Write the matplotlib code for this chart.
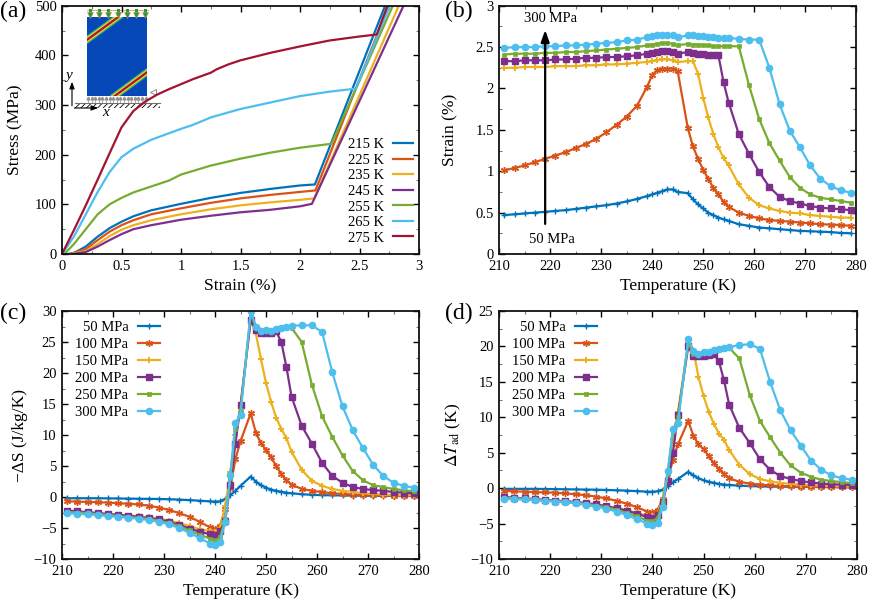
import numpy as np
import matplotlib
matplotlib.use("Agg")
import matplotlib.pyplot as plt
from matplotlib.patches import Rectangle
from matplotlib.ticker import MultipleLocator, FormatStrFormatter

plt.rcParams["font.family"] = ["Liberation Serif", "DejaVu Serif"]
plt.rcParams["mathtext.fontset"] = "stix"
plt.rcParams["hatch.color"] = "#808080"
plt.rcParams["hatch.linewidth"] = 0.6

# ---------------- data ----------------
# (a) stress-strain curves: strain (%) and stress (MPa)
temps_a = ["215 K", "225 K", "235 K", "245 K", "255 K", "265 K", "275 K"]
strain_215 = [0.05, 0.1, 0.2, 0.3, 0.4, 0.5, 0.6, 0.75, 1.0, 1.25, 1.5, 1.75, 2.0, 2.125, 2.715]
stress_215 = [0, 2, 15, 35, 52, 65, 76, 88, 101, 113, 123, 131, 138, 140, 500]
strain_225 = [0.07, 0.2, 0.3, 0.4, 0.5, 0.6, 0.75, 1.0, 1.25, 1.5, 1.75, 2.0, 2.13, 2.745]
stress_225 = [0, 10, 28, 45, 58, 68, 80, 92, 103, 112, 119, 125, 128, 500]
strain_235 = [0.08, 0.2, 0.3, 0.4, 0.5, 0.6, 0.75, 1.0, 1.25, 1.5, 1.75, 2.0, 2.12, 2.83]
stress_235 = [0, 6, 20, 36, 49, 58, 68, 80, 90, 98, 104, 109, 112, 500]
strain_245 = [0.1, 0.2, 0.3, 0.4, 0.5, 0.6, 0.75, 1.0, 1.25, 1.5, 1.75, 2.0, 2.10, 2.87]
stress_245 = [0, 4, 15, 28, 40, 50, 58, 69, 77, 84, 89, 96, 101, 500]
strain_255 = [0.02, 0.1, 0.2, 0.3, 0.4, 0.5, 0.6, 0.75, 0.9, 1.0, 1.25, 1.5, 1.75, 2.0, 2.265, 2.78]
stress_255 = [0, 20, 50, 80, 100, 113, 124, 136, 148, 160, 178, 192, 204, 214, 222, 500]
strain_265 = [0, 0.1, 0.2, 0.3, 0.4, 0.5, 0.6, 0.75, 1.0, 1.1, 1.25, 1.5, 1.75, 2.0, 2.25, 2.47, 2.755]
stress_265 = [0, 35, 80, 125, 165, 195, 212, 230, 252, 260, 275, 292, 305, 318, 327, 333, 500]
strain_275 = [0, 0.1, 0.2, 0.3, 0.4, 0.5, 0.6, 0.7, 0.8, 0.9, 1.0, 1.1, 1.25, 1.3, 1.4, 1.5, 1.75, 2.0, 2.25, 2.5, 2.645, 2.735]
stress_275 = [0, 48, 98, 150, 203, 255, 288, 307, 321, 332, 342, 352, 365, 372, 382, 390, 405, 418, 430, 438, 442, 500]

# (b)-(d) temperature grid (K)
temperature = [211, 213, 215, 217, 219, 221, 223, 225, 227, 229, 231, 233, 235, 237,
               239, 240, 241, 242, 243, 244, 245, 247, 248, 249, 250, 251, 252, 253,
               254, 255, 257, 259, 261, 263, 265, 267, 269, 271, 273, 275, 277, 279]
pressures = ["50 MPa", "100 MPa", "150 MPa", "200 MPa", "250 MPa", "300 MPa"]

# (b) strain (%)
strain_50 = [0.47, 0.48, 0.49, 0.50, 0.51, 0.52, 0.53, 0.545, 0.56, 0.575, 0.59, 0.61, 0.635, 0.665,
             0.70, 0.72, 0.74, 0.76, 0.78, 0.78, 0.75, 0.735, 0.66, 0.60, 0.55, 0.50, 0.47, 0.44,
             0.42, 0.40, 0.36, 0.34, 0.32, 0.31, 0.30, 0.29, 0.28, 0.275, 0.27, 0.265, 0.255, 0.25]
strain_100 = [1.01, 1.04, 1.07, 1.11, 1.15, 1.19, 1.23, 1.28, 1.33, 1.39, 1.47, 1.56, 1.66, 1.79,
              2.02, 2.16, 2.22, 2.24, 2.24, 2.24, 2.21, 1.52, 1.30, 1.15, 1.02, 0.91, 0.80, 0.72,
              0.63, 0.57, 0.50, 0.46, 0.43, 0.41, 0.40, 0.39, 0.38, 0.37, 0.36, 0.355, 0.35, 0.34]
strain_150 = [2.25, 2.25, 2.26, 2.26, 2.26, 2.27, 2.27, 2.27, 2.28, 2.28, 2.29, 2.29, 2.30, 2.31,
              2.32, 2.33, 2.34, 2.35, 2.35, 2.34, 2.32, 2.33, 2.33, 2.18, 1.89, 1.65, 1.45, 1.29,
              1.16, 1.07, 0.84, 0.68, 0.59, 0.55, 0.52, 0.50, 0.49, 0.47, 0.46, 0.45, 0.44, 0.44]
strain_200 = [2.33, 2.33, 2.34, 2.34, 2.34, 2.35, 2.35, 2.36, 2.37, 2.37, 2.38, 2.38, 2.39, 2.40,
              2.42, 2.43, 2.44, 2.45, 2.45, 2.44, 2.42, 2.44, 2.43, 2.42, 2.42, 2.41, 2.41, 2.40,
              2.08, 1.83, 1.45, 1.21, 0.99, 0.81, 0.69, 0.64, 0.61, 0.58, 0.56, 0.55, 0.54, 0.53]
strain_250 = [2.41, 2.42, 2.42, 2.42, 2.43, 2.43, 2.44, 2.44, 2.45, 2.46, 2.47, 2.48, 2.49, 2.50,
              2.52, 2.53, 2.54, 2.55, 2.55, 2.54, 2.52, 2.54, 2.53, 2.53, 2.52, 2.52, 2.51, 2.51,
              2.51, 2.51, 2.51, 2.04, 1.63, 1.34, 1.13, 0.93, 0.80, 0.72, 0.68, 0.66, 0.64, 0.62]
strain_300 = [2.49, 2.50, 2.50, 2.50, 2.51, 2.51, 2.52, 2.52, 2.53, 2.54, 2.55, 2.56, 2.58, 2.59,
              2.62, 2.63, 2.64, 2.65, 2.65, 2.64, 2.62, 2.64, 2.64, 2.63, 2.63, 2.62, 2.62, 2.61,
              2.61, 2.61, 2.60, 2.59, 2.59, 2.25, 1.81, 1.49, 1.29, 1.07, 0.91, 0.82, 0.77, 0.74]

# (c) -dS (J/kg/K)
ds_50 = [-0.2, -0.2, -0.2, -0.2, -0.22, -0.24, -0.26, -0.28, -0.3, -0.32, -0.36, -0.42, -0.5, -0.6,
         -0.7, -0.75, -0.7, -0.3, 0.3, 1.0, 1.8, 3.3, 2.5, 1.9, 1.5, 1.2, 1.0, 0.85,
         0.7, 0.6, 0.45, 0.35, 0.3, 0.27, 0.25, 0.22, 0.2, 0.2, 0.18, 0.17, 0.16, 0.15]
ds_100 = [-0.7, -0.75, -0.8, -0.85, -0.9, -1.0, -1.1, -1.2, -1.4, -1.7, -2.1, -2.6, -3.2, -4.0,
          -4.9, -5.1, -4.6, -2.0, 1.5, 6.1, 9.0, 13.5, 10.4, 8.7, 7.6, 6.4, 5.0, 3.7,
          2.7, 2.0, 1.3, 1.0, 0.8, 0.6, 0.5, 0.4, 0.35, 0.3, 0.25, 0.2, 0.2, 0.15]
ds_150 = [-2.3, -2.4, -2.5, -2.6, -2.75, -2.9, -3.0, -3.1, -3.3, -3.5, -3.8, -4.2, -4.7, -5.2,
          -5.5, -5.6, -5.0, -1.5, 4.0, 10.0, 14.5, 28.5, 26.4, 22.3, 18.4, 15.3, 12.8, 11.0,
          9.5, 7.3, 4.4, 2.6, 1.8, 1.3, 1.0, 0.8, 0.6, 0.5, 0.4, 0.35, 0.3, 0.3]
ds_200 = [-2.2, -2.3, -2.45, -2.6, -2.75, -2.9, -3.0, -3.2, -3.4, -3.6, -4.0, -4.5, -5.1, -5.6,
          -6.0, -6.2, -5.5, -3.8, 2.0, 8.5, 14.8, 28.5, 27.0, 26.4, 26.4, 26.5, 26.7, 25.0,
          21.0, 16.2, 11.5, 8.6, 5.5, 3.4, 2.3, 1.6, 1.3, 1.1, 1.0, 0.8, 0.7, 0.6]
ds_250 = [-2.4, -2.5, -2.6, -2.75, -2.9, -3.05, -3.2, -3.35, -3.55, -3.8, -4.2, -4.7, -5.4, -6.1,
          -6.7, -7.0, -6.5, -3.5, 3.0, 11.0, 14.0, 29.5, 27.5, 27.0, 27.0, 27.0, 27.1, 27.2,
          27.3, 27.3, 25.0, 18.1, 13.0, 9.7, 6.7, 4.2, 2.7, 1.9, 1.6, 1.3, 1.1, 0.9]
ds_300 = [-2.6, -2.7, -2.8, -2.9, -3.05, -3.2, -3.35, -3.5, -3.7, -4.0, -4.4, -5.0, -5.8, -6.6,
          -7.5, -7.8, -7.2, -4.0, 3.5, 12.0, 13.2, 30.0, 27.5, 26.8, 27.0, 26.8, 27.1, 27.3,
          27.5, 27.6, 27.7, 27.7, 26.6, 20.1, 14.6, 10.8, 7.9, 5.2, 3.4, 2.3, 1.8, 1.5]

# (d) adiabatic temperature change (K)
dt_50 = [-0.1, -0.1, -0.1, -0.1, -0.12, -0.14, -0.16, -0.18, -0.2, -0.22, -0.25, -0.3, -0.35, -0.42,
         -0.5, -0.5, -0.45, -0.2, 0.3, 0.8, 1.3, 2.3, 1.8, 1.4, 1.1, 0.9, 0.75, 0.6,
         0.5, 0.45, 0.35, 0.3, 0.25, 0.22, 0.2, 0.2, 0.18, 0.17, 0.16, 0.15, 0.15, 0.15]
dt_100 = [-0.4, -0.45, -0.5, -0.55, -0.6, -0.65, -0.75, -0.85, -1.0, -1.2, -1.45, -1.8, -2.2, -2.7,
          -3.3, -3.4, -3.1, -1.5, 1.2, 4.0, 6.2, 9.5, 7.4, 6.2, 5.5, 4.5, 3.5, 2.7,
          2.0, 1.4, 0.9, 0.65, 0.5, 0.4, 0.3, 0.25, 0.2, 0.2, 0.15, 0.15, 0.1, 0.1]
dt_150 = [-1.4, -1.5, -1.55, -1.65, -1.75, -1.85, -1.95, -2.05, -2.2, -2.35, -2.55, -2.8, -3.1, -3.5,
          -3.9, -4.0, -3.6, -1.5, 2.5, 7.0, 10.8, 20.5, 19.5, 15.7, 13.0, 10.8, 9.1, 7.7,
          6.8, 5.4, 3.3, 2.0, 1.3, 0.95, 0.75, 0.6, 0.5, 0.4, 0.35, 0.3, 0.25, 0.2]
dt_200 = [-1.25, -1.35, -1.45, -1.55, -1.65, -1.75, -1.85, -1.95, -2.1, -2.3, -2.55, -2.85, -3.2, -3.6,
          -4.1, -4.2, -3.8, -2.0, 1.0, 5.0, 10.3, 20.0, 18.6, 18.6, 18.7, 18.8, 18.9, 17.9,
          15.2, 11.8, 8.5, 6.4, 4.1, 2.6, 1.7, 1.3, 1.0, 0.8, 0.65, 0.55, 0.5, 0.45]
dt_250 = [-1.35, -1.45, -1.5, -1.6, -1.7, -1.8, -1.9, -2.05, -2.2, -2.45, -2.7, -3.05, -3.5, -4.0,
          -4.6, -4.7, -4.2, -2.0, 2.0, 8.0, 10.0, 20.5, 19.0, 19.0, 19.1, 19.2, 19.4, 19.6,
          19.7, 19.8, 18.3, 13.2, 9.5, 7.2, 5.0, 3.2, 2.2, 1.6, 1.2, 1.0, 0.85, 0.7]
dt_300 = [-1.5, -1.55, -1.6, -1.7, -1.8, -1.9, -2.0, -2.15, -2.35, -2.6, -2.9, -3.3, -3.8, -4.4,
          -5.0, -5.2, -4.9, -2.6, 2.4, 8.3, 9.2, 21.0, 19.4, 18.9, 19.2, 19.2, 19.5, 19.7,
          19.8, 19.9, 20.2, 20.3, 19.7, 15.0, 11.0, 8.2, 6.0, 3.9, 2.6, 1.8, 1.4, 1.2]

colors = ["#0072BD", "#D95319", "#EDB120", "#7E2F8E", "#77AC30", "#4DBEEE", "#A2142F"]
markers = ["+", (6, 2, 0), "P", "s", "s", "o"]
msizes = [4.5, 5, 5, 4.5, 3, 4.5]
medgew = [1.0, 1.0, 0.0, 1.0, 0.5, 1.0]

# ---------------- figure ----------------
fig = plt.figure(figsize=(8.72, 6.05), dpi=100)
W, H = 872.0, 605.0


def add_ax(l, t, r, b):
    ax = fig.add_axes([l / W, 1 - b / H, (r - l) / W, (b - t) / H], zorder=2)
    ax.set_facecolor("none")
    return ax


ax_a = add_ax(62, 5.7, 419, 254)
ax_b = add_ax(499.3, 5.7, 856, 254)
ax_c = add_ax(62, 311, 419, 559)
ax_d = add_ax(499, 311, 857, 559)


def style(ax, xmin, ymin):
    for s in ax.spines.values():
        s.set_linewidth(1.3)
        s.set_color("#111111")
    ax.xaxis.set_minor_locator(MultipleLocator(xmin))
    ax.yaxis.set_minor_locator(MultipleLocator(ymin))
    ax.tick_params(which="both", direction="in", top=True, right=True, labelsize=10.5,
                   pad=4)
    ax.tick_params(which="major", length=4, width=1)
    ax.tick_params(which="minor", length=2.5, width=0.8, color="#777777")


# (a)
series_a = [(strain_215, stress_215), (strain_225, stress_225), (strain_235, stress_235),
            (strain_245, stress_245), (strain_255, stress_255), (strain_265, stress_265),
            (strain_275, stress_275)]
for (x, y), lab, c in zip(series_a, temps_a, colors):
    ax_a.plot(x, y, color=c, lw=1.6, label=lab)
ax_a.set_xlim(0, 3)
ax_a.set_ylim(0, 500)
ax_a.xaxis.set_major_locator(MultipleLocator(0.5))
ax_a.xaxis.set_major_formatter(FormatStrFormatter("%g"))
ax_a.yaxis.set_major_locator(MultipleLocator(100))
style(ax_a, 0.25, 50)
ax_a.set_xlabel("Strain (%)", fontsize=12.5)
ax_a.set_ylabel("Stress (MPa)", fontsize=12.5)
ax_a.legend(loc="lower right", bbox_to_anchor=(1.021, -0.015), frameon=False, markerfirst=False,
            fontsize=10.5, handlelength=1.4, handletextpad=0.6, labelspacing=0.16)

# (b)-(d)
series_b = [strain_50, strain_100, strain_150, strain_200, strain_250, strain_300]
series_c = [ds_50, ds_100, ds_150, ds_200, ds_250, ds_300]
series_d = [dt_50, dt_100, dt_150, dt_200, dt_250, dt_300]

for ax, series in ((ax_b, series_b), (ax_c, series_c), (ax_d, series_d)):
    for y, lab, c, m, ms, mw in zip(series, pressures, colors, markers, msizes, medgew):
        ax.plot(temperature, y, color=c, lw=1.6, marker=m, ms=ms, mew=mw,
                mec=c, mfc=c, label=lab)
    ax.set_xlim(210, 280)
    ax.xaxis.set_major_locator(MultipleLocator(10))
    ax.set_xlabel("Temperature (K)", fontsize=12.5)

ax_b.set_ylim(0, 3)
ax_b.yaxis.set_major_locator(MultipleLocator(0.5))
ax_b.yaxis.set_major_formatter(FormatStrFormatter("%g"))
style(ax_b, 5, 0.25)
ax_b.set_ylabel("Strain (%)", fontsize=12.5)
ax_b.annotate("", xy=(219, 2.74), xytext=(219, 0.33),
              arrowprops=dict(arrowstyle="-|>,head_width=0.25,head_length=0.7",
                              color="black", lw=1.6))
ax_b.text(220, 2.77, "300 MPa", ha="center", va="bottom", fontsize=10.5)
ax_b.text(220.3, 0.17, "50 MPa", ha="center", va="center", fontsize=10.5)

ax_c.set_ylim(-10, 30)
ax_c.yaxis.set_major_locator(MultipleLocator(5))
style(ax_c, 5, 2.5)
ax_c.set_ylabel("\u2212\u0394S (J/kg/K)", fontsize=12.5)

ax_d.set_ylim(-10, 25)
ax_d.yaxis.set_major_locator(MultipleLocator(5))
style(ax_d, 5, 2.5)
ax_d.set_ylabel(r"$\mathit{\Delta T}_{\mathrm{ad}}$ (K)", fontsize=12.5)

for ax in (ax_c, ax_d):
    ax.legend(loc="upper left", bbox_to_anchor=(0.0, 1.012), frameon=False, markerfirst=False,
              fontsize=10.5, handlelength=1.5, handletextpad=0.7, labelspacing=0.26)

ax_a.yaxis.set_label_coords(-0.109, 0.5)
ax_b.yaxis.set_label_coords(-0.115, 0.5)
ax_c.yaxis.set_label_coords(-0.095, 0.5)
ax_d.yaxis.set_label_coords(-0.10, 0.5)

# panel labels
fig.text(0 / W, 1 - 11 / H, "(a)", fontsize=17, va="center", ha="left")
fig.text(445 / W, 1 - 11 / H, "(b)", fontsize=17, va="center", ha="left")
fig.text(0 / W, 1 - 313 / H, "(c)", fontsize=17, va="center", ha="left")
fig.text(445 / W, 1 - 313 / H, "(d)", fontsize=17, va="center", ha="left")

# ---------------- inset sketch in (a), pixel overlay ----------------
sk = fig.add_axes([0, 0, 1, 1], zorder=1)
sk.set_xlim(0, W)
sk.set_ylim(H, 0)
sk.axis("off")
body = Rectangle((87, 17), 60, 79, facecolor="#0648B8", edgecolor="none")
sk.add_patch(body)
for (x0, y0, x1, y1) in ((80, 45, 121, 15), (112, 98, 150, 70)):
    for lw, c in ((5, "#3cb371"), (3.2, "#e8e020"), (1.6, "#b01040")):
        ln, = sk.plot([x0, x1], [y0, y1], color=c, lw=lw, solid_capstyle="butt")
        ln.set_clip_path(body)
sk.plot([87, 148], [10, 10], color="#e8b080", lw=0.8)
for xa in np.linspace(90, 145, 7):
    sk.plot([xa, xa], [10, 14], color="#2a9a3a", lw=2.2)
    sk.plot(xa, 14.8, marker="v", ms=5, color="#2a9a3a", mec="#d09050", mew=0.4)
for xa in np.arange(88, 148, 3.6):
    sk.plot([xa, xa], [97.5, 102.5], color="#909090", lw=0.5)
    sk.plot(xa, 98, marker="^", ms=2, color="#909090")
sk.add_patch(Rectangle((75, 103), 85, 4.5, hatch="//////", fill=False, lw=0))
sk.plot([75, 160], [103, 103], color="#707070", lw=0.8)
sk.plot(153, 92, marker="<", ms=5, mfc="none", mec="#909090", mew=0.7)
sk.annotate("", xy=(72, 79), xytext=(72, 108.5),
            arrowprops=dict(arrowstyle="-|>,head_width=0.15,head_length=0.4", color="black", lw=0.8))
sk.annotate("", xy=(101, 108), xytext=(71.5, 108),
            arrowprops=dict(arrowstyle="-|>,head_width=0.15,head_length=0.4", color="black", lw=0.8))
sk.text(69, 76, "y", style="italic", fontsize=11, ha="center", va="center")
sk.text(106, 113, "x", style="italic", fontsize=11, ha="center", va="center")

fig.savefig("out.png", dpi=100)
